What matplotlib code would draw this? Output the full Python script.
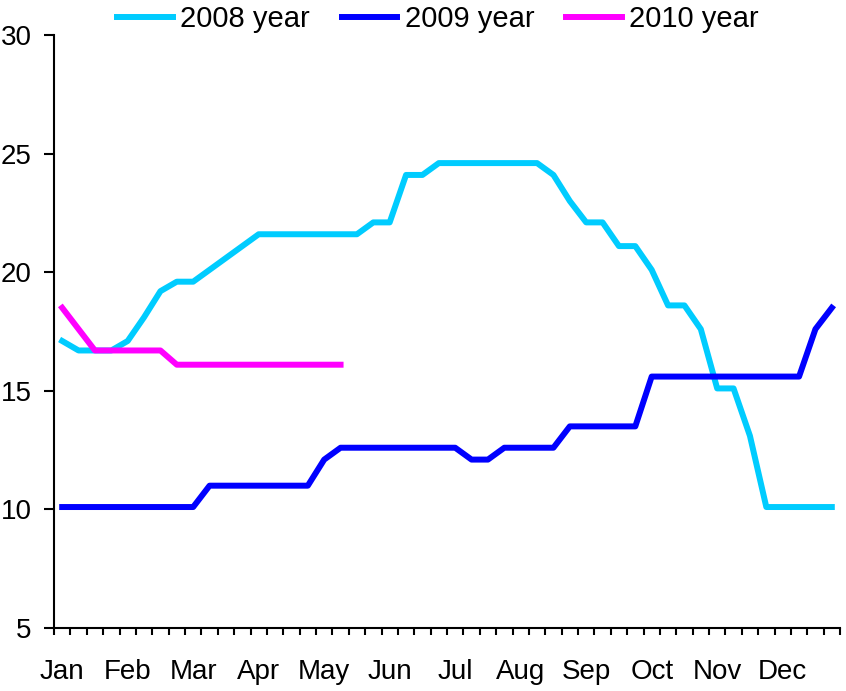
import matplotlib
matplotlib.use('Agg')
import matplotlib.pyplot as plt
import numpy as np

months = ['Jan', 'Feb', 'Mar', 'Apr', 'May', 'Jun', 'Jul', 'Aug', 'Sep', 'Oct', 'Nov', 'Dec']

# weekly values, 4 points per month
y2008 = [17.1, 16.7, 16.7, 16.7, 17.1, 18.1, 19.2, 19.6,
         19.6, 20.1, 20.6, 21.1, 21.6, 21.6, 21.6, 21.6,
         21.6, 21.6, 21.6, 22.1, 22.1, 24.1, 24.1, 24.6,
         24.6, 24.6, 24.6, 24.6, 24.6, 24.6, 24.1, 23.0,
         22.1, 22.1, 21.1, 21.1, 20.1, 18.6, 18.6, 17.6,
         15.1, 15.1, 13.1, 10.1, 10.1, 10.1, 10.1, 10.1]
y2009 = [10.1, 10.1, 10.1, 10.1, 10.1, 10.1, 10.1, 10.1,
         10.1, 11.0, 11.0, 11.0, 11.0, 11.0, 11.0, 11.0,
         12.1, 12.6, 12.6, 12.6, 12.6, 12.6, 12.6, 12.6,
         12.6, 12.1, 12.1, 12.6, 12.6, 12.6, 12.6, 13.5,
         13.5, 13.5, 13.5, 13.5, 15.6, 15.6, 15.6, 15.6,
         15.6, 15.6, 15.6, 15.6, 15.6, 15.6, 17.6, 18.5]
y2010 = [18.5, 17.6, 16.7, 16.7, 16.7, 16.7, 16.7, 16.1,
         16.1, 16.1, 16.1, 16.1, 16.1, 16.1, 16.1, 16.1,
         16.1, 16.1]

plt.rcParams['font.family'] = ['Liberation Sans', 'DejaVu Sans']

fig = plt.figure(figsize=(8.46, 6.91), dpi=100)
ax = fig.add_axes([54 / 846, 1 - 628 / 691, (840 - 54) / 846, (628 - 35) / 691])

ax.plot(np.arange(len(y2008)), y2008, color='#00CCFF', lw=4.3, label='2008 year')
ax.plot(np.arange(len(y2009)), y2009, color='#0000FF', lw=4.3, label='2009 year')
ax.plot(np.arange(len(y2010)), y2010, color='#FF00FF', lw=4.3, label='2010 year')

ax.set_xlim(-0.5, 47.5)
ax.set_ylim(5, 30)
ax.set_yticks([5, 10, 15, 20, 25, 30])
ax.set_xticks(np.arange(0, 48, 4))
ax.set_xticklabels(months)
ax.set_xticks(np.arange(-0.5, 48, 1), minor=True)

ax.spines['top'].set_visible(False)
ax.spines['right'].set_visible(False)
ax.spines['left'].set_linewidth(1.5)
ax.spines['bottom'].set_linewidth(1.5)
ax.tick_params(axis='y', direction='out', length=7, width=1.5, labelsize=20, pad=9)
ax.tick_params(axis='x', which='major', length=0, labelsize=20, pad=22)
ax.tick_params(axis='x', which='minor', direction='out', length=5, width=1.5)

fig.legend(loc='center', bbox_to_anchor=(438 / 846, 1 - 19 / 691), ncol=3, frameon=False,
           fontsize=21, handlelength=1.9, handletextpad=0.25, columnspacing=1.1,
           borderaxespad=0, borderpad=0)

plt.savefig('out.png', dpi=100)
